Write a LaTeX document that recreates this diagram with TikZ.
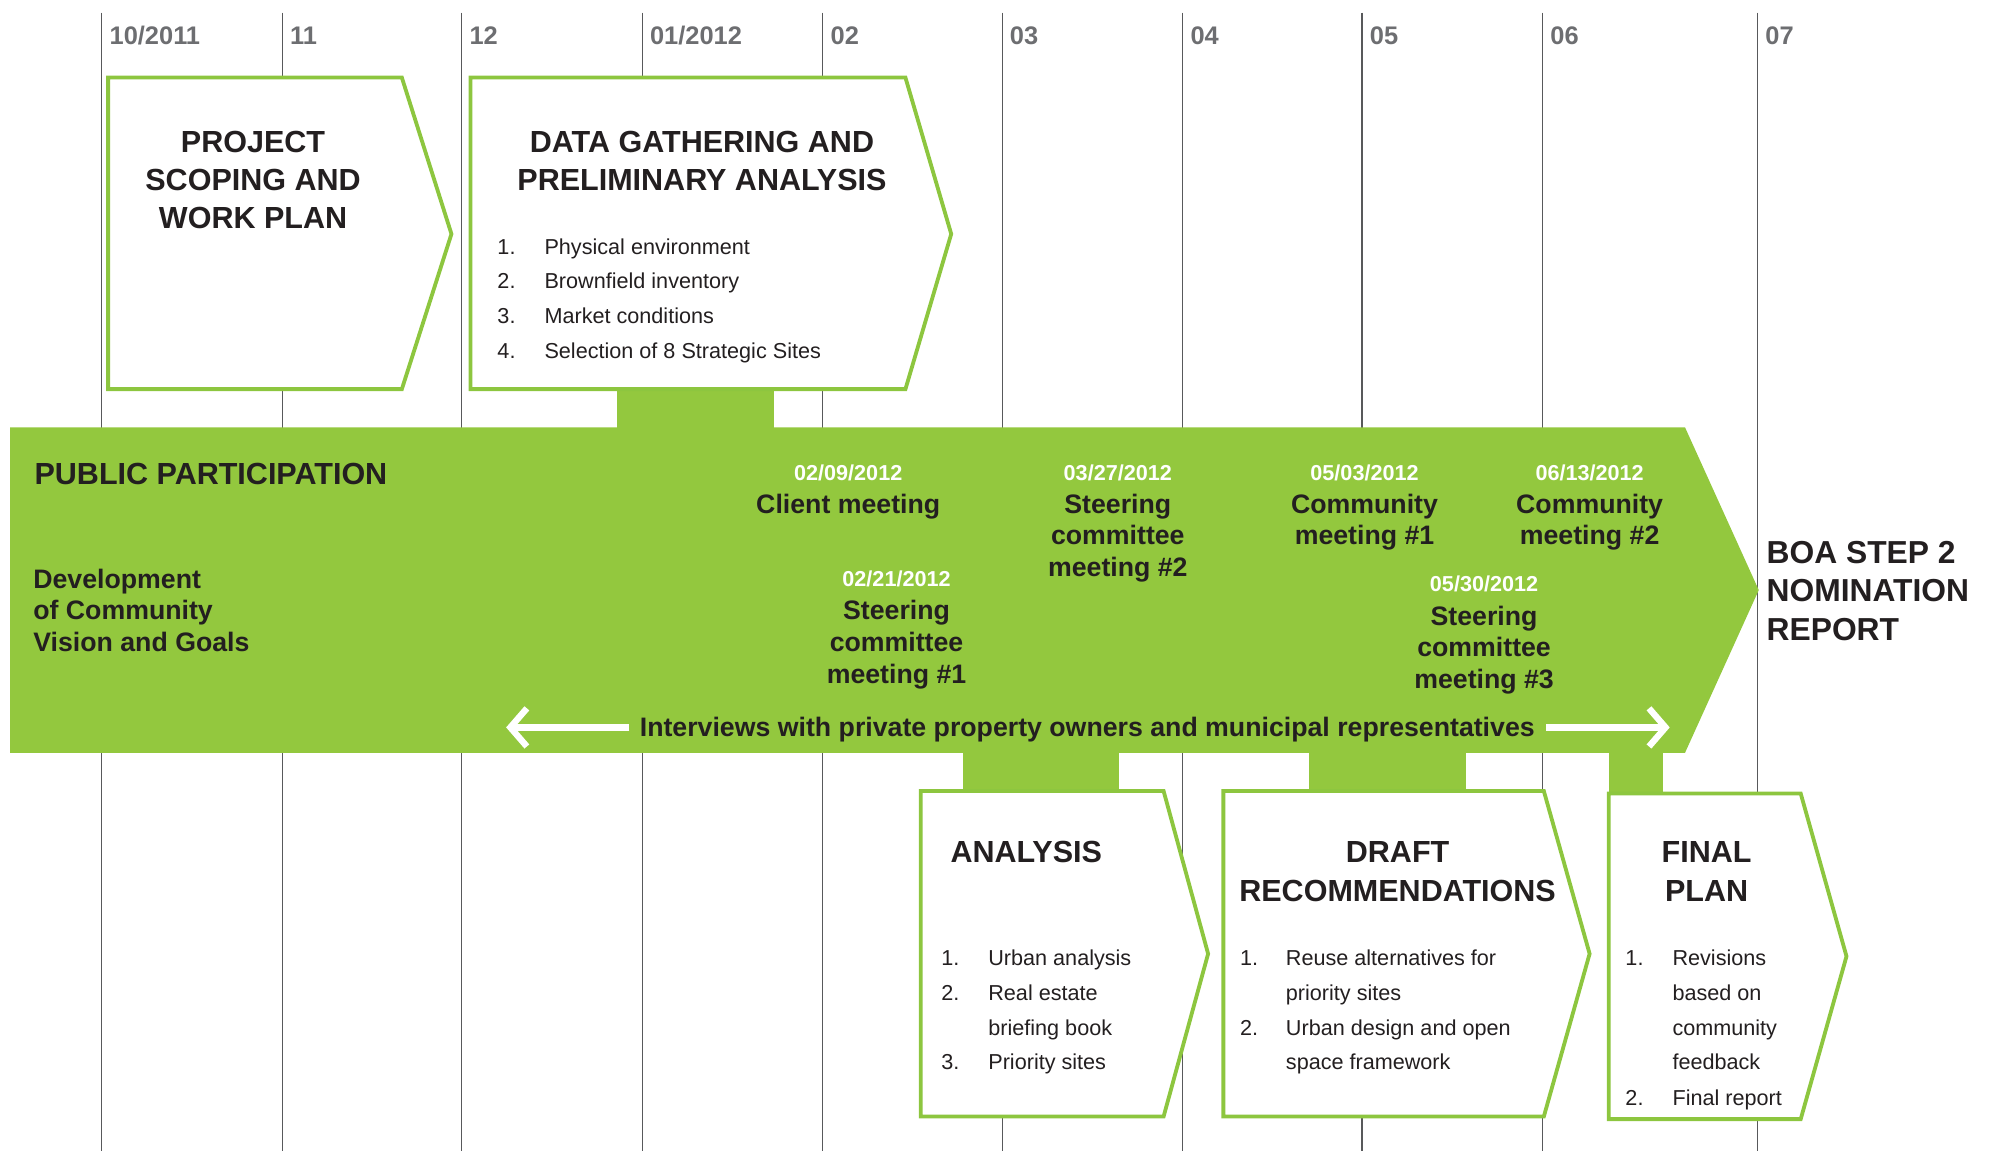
\documentclass[tikz,border=0pt]{standalone}
\usepackage{fontspec}
\setmainfont{Liberation Sans}
\usetikzlibrary{arrows.meta}
\definecolor{bargreen}{HTML}{93C83E}
\definecolor{boxgreen}{HTML}{8DC63F}
\definecolor{ink}{HTML}{231F20}
\definecolor{monthgray}{HTML}{6D6E71}
\definecolor{gridgray}{HTML}{58595B}
\begin{document}
\begin{tikzpicture}[x=1pt,y=-1pt,
  grid/.style={draw=gridgray,line width=0.9pt},
  phase/.style={draw=boxgreen,line width=3pt,fill=white,line join=miter},
  stub/.style={fill=bargreen},
  month/.style={font=\fontsize{20}{24}\selectfont\bfseries,text=monthgray,anchor=base west,inner sep=0},
  ttl/.style={font=\fontsize{24}{30}\selectfont\bfseries,text=ink,anchor=base,inner sep=0},
  ttlw/.style={ttl,anchor=base west},
  datelbl/.style={font=\fontsize{17}{20}\selectfont\bfseries,text=white,anchor=base,inner sep=0},
  mtg/.style={font=\fontsize{21}{25}\selectfont\bfseries,text=ink,anchor=base,inner sep=0},
  mtgw/.style={mtg,anchor=base west},
  item/.style={font=\fontsize{17}{20}\selectfont,text=ink,anchor=base west,inner sep=0},
  warrow/.style={draw=white,line width=5pt,-{Straight Barb[length=13pt,width=30pt]}}
]
\useasboundingbox (0,0) rectangle (1568,905);
% month grid
\foreach \x in {80,222,363,505,647,788,930,1071,1213,1382}
  \draw[grid] (\x,10) -- (\x,905);
% month labels
\node[month] (m1) at (86,35) {10/2011};
\node[month] (m2) at (228,35) {11};
\node[month] (m3) at (369,35) {12};
\node[month] (m4) at (511,35) {01/2012};
\node[month] (m5) at (653,35) {02};
\node[month] (m6) at (794,35) {03};
\node[month] (m7) at (936,35) {04};
\node[month] (m8) at (1077,35) {05};
\node[month] (m9) at (1219,35) {06};
\node[month] (m10) at (1388,35) {07};
% stubs (connectors between phases and the bar)
\coordinate (s1a) at (485,300); \coordinate (s1b) at (609,340);
\fill[stub] (s1a) rectangle (s1b);
\coordinate (s2a) at (757,588); \coordinate (s2b) at (880,626);
\fill[stub] (s2a) rectangle (s2b);
\coordinate (s3a) at (1029,588); \coordinate (s3b) at (1153,626);
\fill[stub] (s3a) rectangle (s3b);
\coordinate (s4a) at (1265,588); \coordinate (s4b) at (1308,628);
\fill[stub] (s4a) rectangle (s4b);
% public participation bar
\fill[bargreen] (8,336) -- (1325,336) -- (1383,464) -- (1325,592) -- (8,592) -- cycle;
% phase boxes
\draw[phase] (85,61) -- (316,61) -- (355,184) -- (316,306) -- (85,306) -- cycle;
\draw[phase] (370,61) -- (712,61) -- (748,184) -- (712,306) -- (370,306) -- cycle;
\draw[phase] (724,622) -- (915,622) -- (950,750) -- (915,878) -- (724,878) -- cycle;
\draw[phase] (962,622) -- (1214,622) -- (1250,750) -- (1214,878) -- (962,878) -- cycle;
\draw[phase] (1265,624) -- (1416,624) -- (1452,752) -- (1416,880) -- (1265,880) -- cycle;
% box 1
\node[ttl] (p1a) at (199,119.6) {PROJECT};
\node[ttl] (p1b) at (199,149.6) {SCOPING AND};
\node[ttl] (p1c) at (199,179.6) {WORK PLAN};
% box 2
\node[ttl] (p2a) at (552,119.6) {DATA GATHERING AND};
\node[ttl] (p2b) at (552,149.6) {PRELIMINARY ANALYSIS};
\node[item] (p2n1) at (391,200) {1.};
\node[item] (p2i1) at (428,200) {Physical environment};
\node[item] (p2n2) at (391,227) {2.};
\node[item] (p2i2) at (428,227) {Brownfield inventory};
\node[item] (p2n3) at (391,254) {3.};
\node[item] (p2i3) at (428,254) {Market conditions};
\node[item] (p2n4) at (391,282) {4.};
\node[item] (p2i4) at (428,282) {Selection of 8 Strategic Sites};
% bar texts
\node[ttlw] (pp) at (27,380.6) {PUBLIC PARTICIPATION};
\node[mtgw] (dv1) at (26,462.5) {Development};
\node[mtgw] (dv2) at (26,487.5) {of Community};
\node[mtgw] (dv3) at (26,512.5) {Vision and Goals};
\node[datelbl] (d1) at (667,378) {02/09/2012};
\node[mtg] (d1a) at (667,403.5) {Client meeting};
\node[datelbl] (d2) at (705,461) {02/21/2012};
\node[mtg] (d2a) at (705,487.5) {Steering};
\node[mtg] (d2b) at (705,512.5) {committee};
\node[mtg] (d2c) at (705,537.5) {meeting \#1};
\node[datelbl] (d3) at (879,378) {03/27/2012};
\node[mtg] (d3a) at (879,403.5) {Steering};
\node[mtg] (d3b) at (879,428.5) {committee};
\node[mtg] (d3c) at (879,453.5) {meeting \#2};
\node[datelbl] (d4) at (1073,378) {05/03/2012};
\node[mtg] (d4a) at (1073,403.5) {Community};
\node[mtg] (d4b) at (1073,428.5) {meeting \#1};
\node[datelbl] (d5) at (1250,378) {06/13/2012};
\node[mtg] (d5a) at (1250,403.5) {Community};
\node[mtg] (d5b) at (1250,428.5) {meeting \#2};
\node[datelbl] (d6) at (1167,465) {05/30/2012};
\node[mtg] (d6a) at (1167,491.5) {Steering};
\node[mtg] (d6b) at (1167,516.5) {committee};
\node[mtg] (d6c) at (1167,541.5) {meeting \#3};
\node[mtg] (intv) at (855,579.5) {Interviews with private property owners and municipal representatives};
\coordinate (la) at (398,572);
\coordinate (ra) at (1313,572);
\draw[warrow] ([xshift=-8pt]intv.west |- la) -- (la);
\draw[warrow] ([xshift=9pt]intv.east |- ra) -- (ra);
% outcome
\node[ttlw,font=\fontsize{25}{30}\selectfont\bfseries] (boa1) at (1389,443) {BOA STEP 2};
\node[ttlw,font=\fontsize{25}{30}\selectfont\bfseries] (boa2) at (1389,473) {NOMINATION};
\node[ttlw,font=\fontsize{25}{30}\selectfont\bfseries] (boa3) at (1389,504) {REPORT};
% analysis
\node[ttl] (an) at (807,678.6) {ANALYSIS};
\node[item] (ann1) at (740,759) {1.};
\node[item] (ani1) at (777,759) {Urban analysis};
\node[item] (ann2) at (740,787) {2.};
\node[item] (ani2) at (777,787) {Real estate};
\node[item] (ani2b) at (777,814) {briefing book};
\node[item] (ann3) at (740,841) {3.};
\node[item] (ani3) at (777,841) {Priority sites};
% draft
\node[ttl] (dr1) at (1099,678.6) {DRAFT};
\node[ttl] (dr2) at (1099,708.6) {RECOMMENDATIONS};
\node[item] (drn1) at (975,759) {1.};
\node[item] (dri1) at (1011,759) {Reuse alternatives for};
\node[item] (dri1b) at (1011,787) {priority sites};
\node[item] (drn2) at (975,814) {2.};
\node[item] (dri2) at (1011,814) {Urban design and open};
\node[item] (dri2b) at (1011,841) {space framework};
% final
\node[ttl] (fp1) at (1342,678.6) {FINAL};
\node[ttl] (fp2) at (1342,708.6) {PLAN};
\node[item] (fpn1) at (1278,759) {1.};
\node[item] (fpi1) at (1315,759) {Revisions};
\node[item] (fpi1b) at (1315,787) {based on};
\node[item] (fpi1c) at (1315,814) {community};
\node[item] (fpi1d) at (1315,841) {feedback};
\node[item] (fpn2) at (1278,869) {2.};
\node[item] (fpi2) at (1315,869) {Final report};
\end{tikzpicture}
\end{document}
